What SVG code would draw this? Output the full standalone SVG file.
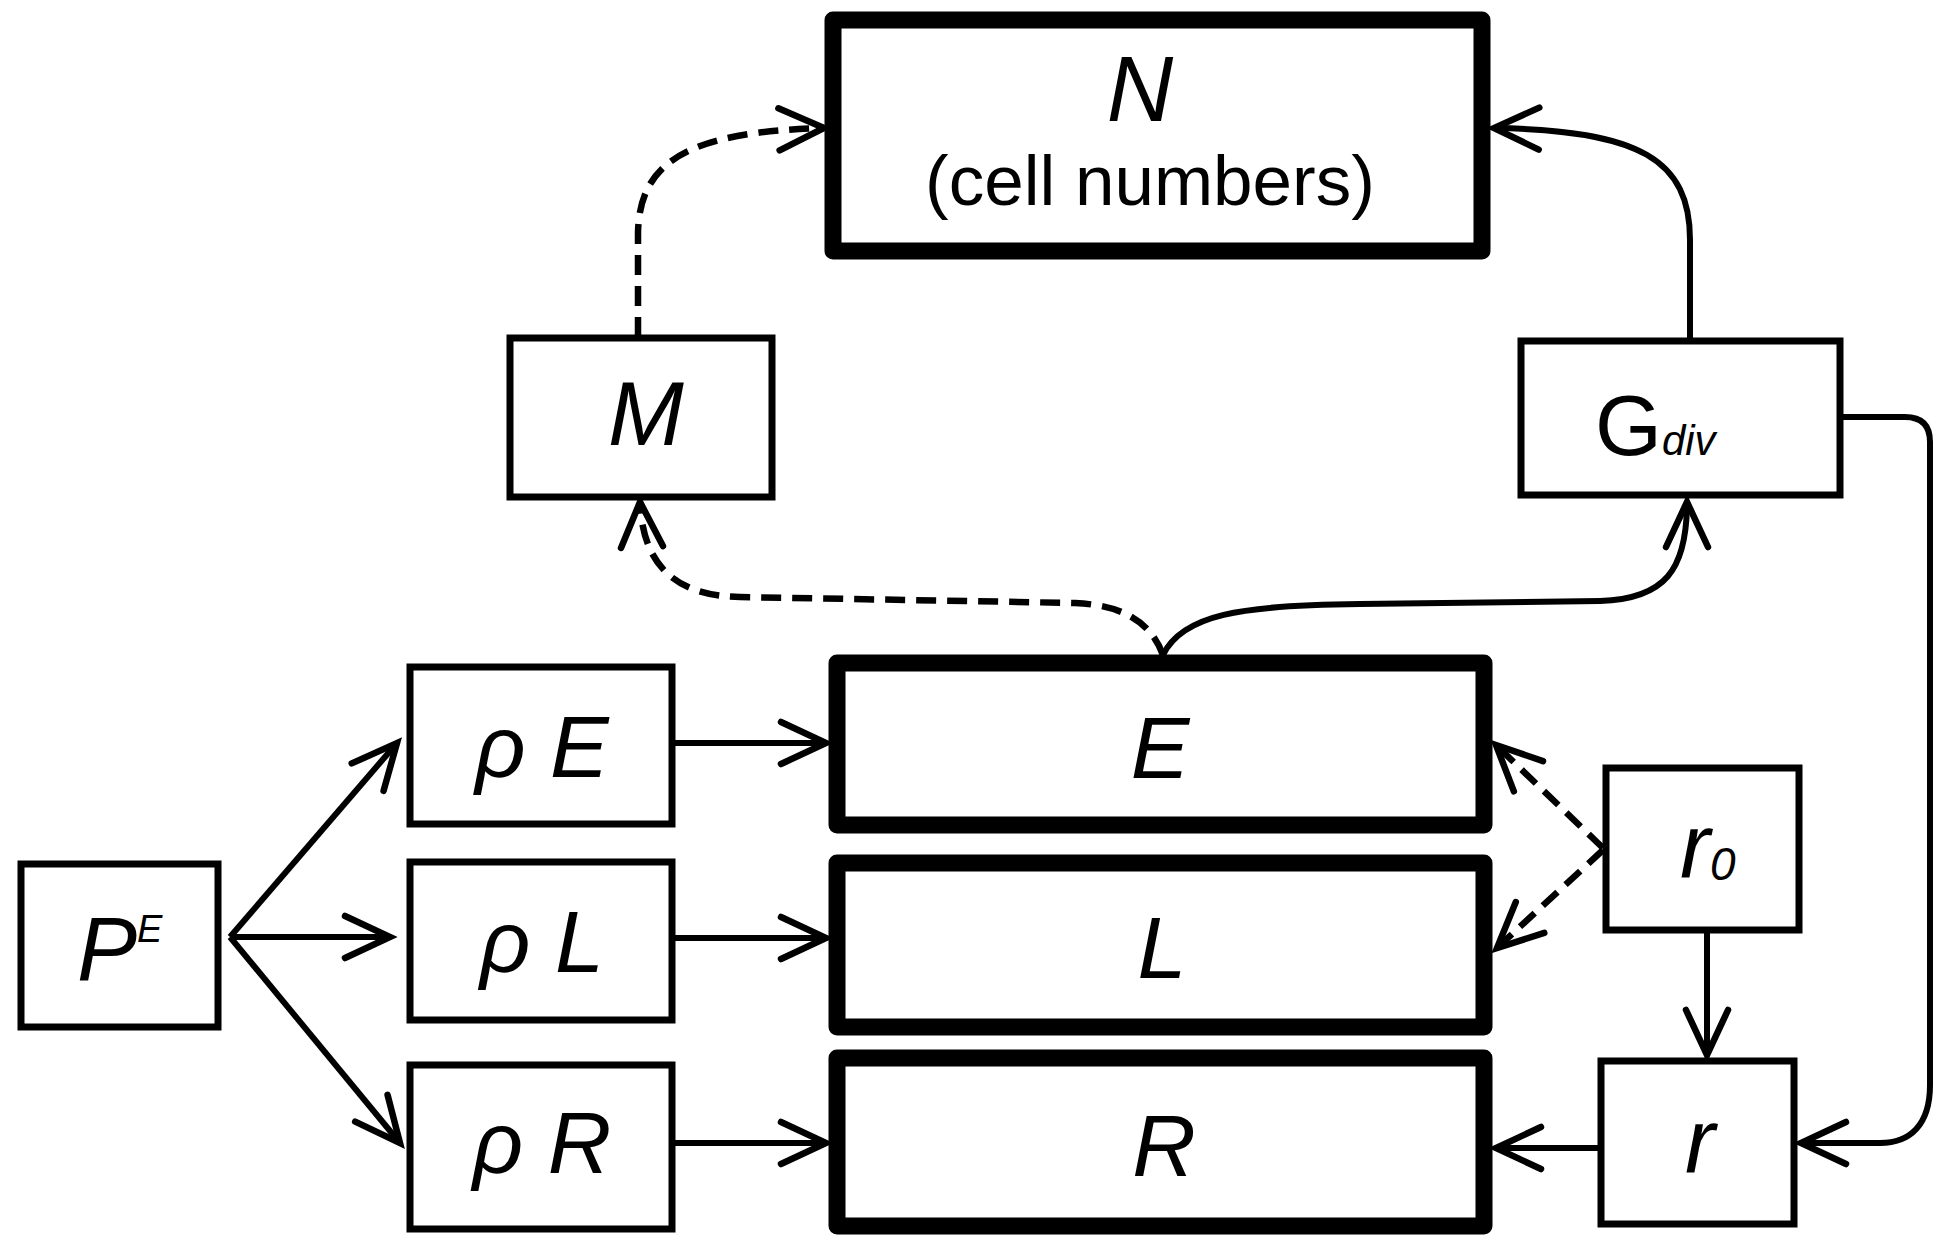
<svg xmlns="http://www.w3.org/2000/svg" width="1946" height="1238" viewBox="0 0 1946 1238">
  <style>
    .box { fill: #ffffff; stroke: #000000; stroke-width: 7; }
    .thick { fill: #ffffff; stroke: #000000; stroke-width: 17; stroke-linejoin: round; }
    .lbl { font-family: "Liberation Sans", Arial, sans-serif; font-style: italic; fill: #000000; }
    .plain { font-family: "Liberation Sans", Arial, sans-serif; fill: #000000; }
    .edge { fill: none; stroke: #000000; stroke-width: 6; marker-end: url(#arrow); }
    .dash { fill: none; stroke: #000000; stroke-width: 6.5; stroke-dasharray: 20 11; marker-end: url(#arrow); }
  </style>
  <defs>
    <marker id="arrow" markerUnits="userSpaceOnUse" orient="auto" overflow="visible" markerWidth="60" markerHeight="60" refX="0" refY="0">
      <path d="M -45 -21 L 0 0 L -45 21" fill="none" stroke="#000000" stroke-width="6.5" stroke-linecap="round" stroke-linejoin="miter"/>
    </marker>
  </defs>
  <rect x="0" y="0" width="1946" height="1238" fill="#ffffff"/>

  <!-- connectors -->
  <g id="connectors">
    <path class="dash" d="M 638 337 L 638 232 C 640 160 690 132 824 128"/>
    <path class="edge" d="M 1690 338 L 1690 240 C 1690 160 1640 130 1494 128"/>
    <path class="dash" d="M 1163 655 C 1150 620 1120 605 1075 603 L 740 597 C 680 596 643 570 640 502"/>
    <path class="edge" d="M 1163 655 C 1182 615 1240 605 1360 604 L 1600 601 C 1665 599 1687 570 1687 502"/>
    <path class="edge" d="M 230 937 L 397 743"/>
    <path class="edge" d="M 230 937 L 390 937"/>
    <path class="edge" d="M 230 937 L 400 1143"/>
    <path class="edge" d="M 672 743 L 826 743"/>
    <path class="edge" d="M 672 938 L 826 938"/>
    <path class="edge" d="M 672 1143 L 826 1143"/>
    <path class="dash" d="M 1603 848 L 1496 745"/>
    <path class="dash" d="M 1603 850 L 1497 948"/>
    <path class="edge" d="M 1707 933 L 1707 1055"/>
    <path class="edge" d="M 1598 1148 L 1496 1148"/>
    <path class="edge" d="M 1843 417 L 1905 417 Q 1930 417 1930 442 L 1930 1085 C 1930 1125 1910 1143 1880 1143 L 1801 1143"/>
  </g>

  <!-- nodes -->
  <g id="node-N">
    <rect class="thick" x="833" y="20" width="649" height="231"/>
    <text class="lbl" x="1140" y="121" font-size="92" text-anchor="middle">N</text>
    <text class="plain" x="1150" y="205" font-size="71" text-anchor="middle">(cell numbers)</text>
  </g>
  <g id="node-M">
    <rect class="box" x="510" y="338" width="262" height="159"/>
    <text class="lbl" x="646" y="445" font-size="91" text-anchor="middle">M</text>
  </g>
  <g id="node-Gdiv">
    <rect class="box" x="1521" y="341" width="319" height="154"/>
    <text class="plain" x="1595" y="455" font-size="86">G<tspan class="lbl" font-size="42">div</tspan></text>
  </g>
  <g id="node-PE">
    <rect class="box" x="21" y="864" width="197" height="163"/>
    <text class="lbl" x="77" y="980" font-size="90">P</text>
    <text class="lbl" x="137" y="942" font-size="38">E</text>
  </g>
  <g id="node-rhoE">
    <rect class="box" x="410" y="667" width="262" height="157"/>
    <text class="lbl" x="542" y="777" font-size="88" text-anchor="middle">ρ E</text>
  </g>
  <g id="node-rhoL">
    <rect class="box" x="410" y="862" width="262" height="158"/>
    <text class="lbl" x="542" y="972" font-size="88" text-anchor="middle">ρ L</text>
  </g>
  <g id="node-rhoR">
    <rect class="box" x="410" y="1065" width="262" height="164"/>
    <text class="lbl" x="542" y="1173" font-size="88" text-anchor="middle">ρ R</text>
  </g>
  <g id="node-E">
    <rect class="thick" x="837" y="663" width="647" height="162"/>
    <text class="lbl" x="1160" y="778" font-size="88" text-anchor="middle">E</text>
  </g>
  <g id="node-L">
    <rect class="thick" x="837" y="863" width="647" height="164"/>
    <text class="lbl" x="1162" y="978" font-size="88" text-anchor="middle">L</text>
  </g>
  <g id="node-R">
    <rect class="thick" x="837" y="1058" width="647" height="168"/>
    <text class="lbl" x="1164" y="1176" font-size="88" text-anchor="middle">R</text>
  </g>
  <g id="node-r0">
    <rect class="box" x="1606" y="768" width="193" height="162"/>
    <text class="lbl" x="1680" y="877" font-size="90">r</text>
    <text class="lbl" x="1710" y="880" font-size="46">0</text>
  </g>
  <g id="node-r">
    <rect class="box" x="1601" y="1061" width="193" height="163"/>
    <text class="lbl" x="1700" y="1172" font-size="90" text-anchor="middle">r</text>
  </g>
</svg>
